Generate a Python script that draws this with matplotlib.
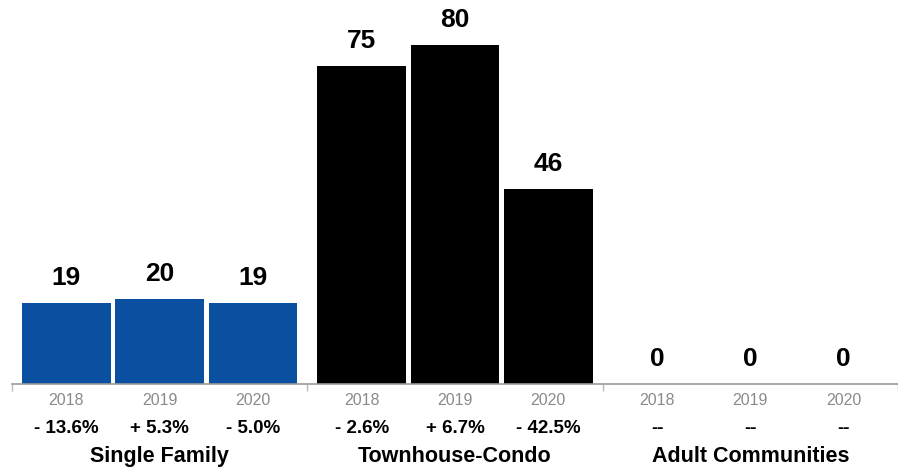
import matplotlib.pyplot as plt
import numpy as np

plt.rcParams['font.family'] = ['Liberation Sans', 'DejaVu Sans']

groups = ["Single Family", "Townhouse-Condo", "Adult Communities"]
years = ["2018", "2019", "2020"]
values = [
    [19, 20, 19],
    [75, 80, 46],
    [0, 0, 0],
]
changes = [
    ["- 13.6%", "+ 5.3%", "- 5.0%"],
    ["- 2.6%", "+ 6.7%", "- 42.5%"],
    ["--", "--", "--"],
]
colors = ["#0b4fa1", "#000000", "#000000"]

fig = plt.figure(figsize=(8.98, 4.70), dpi=100)
ax = fig.add_axes([12 / 898, 86 / 470, 886 / 898, 384 / 470])

offsets = np.array([-0.316, 0.0, 0.316])
width = 0.30

for g, name in enumerate(groups):
    xs = g + 0.5 + offsets
    ax.bar(xs, values[g], width=width, color=colors[g])
    for x, v, yr, ch in zip(xs, values[g], years, changes[g]):
        ax.annotate(str(v), xy=(x, v), xytext=(0, 18), textcoords='offset pixels',
                    ha='center', va='baseline', fontsize=19, fontweight='bold')
        ax.annotate(yr, xy=(x, 0), xycoords=('data', 'axes fraction'),
                    xytext=(0, -21), textcoords='offset pixels',
                    ha='center', va='baseline', fontsize=11.5, color='#8a8a8a')
        ax.annotate(ch, xy=(x, 0), xycoords=('data', 'axes fraction'),
                    xytext=(0, -49), textcoords='offset pixels',
                    ha='center', va='baseline', fontsize=13.5, fontweight='bold')
    ax.annotate(name, xy=(g + 0.5, 0), xycoords=('data', 'axes fraction'),
                xytext=(0, -78), textcoords='offset pixels',
                ha='center', va='baseline', fontsize=15.5, fontweight='bold')

ax.set_xlim(0, 886 / 297)
ax.set_ylim(0, 384 / 4.24)
for s in ['top', 'right', 'left']:
    ax.spines[s].set_visible(False)
ax.spines['bottom'].set_color('#999999')
ax.spines['bottom'].set_linewidth(1.2)
ax.set_xticks([0, 1, 2, 3])
ax.set_xticklabels([])
ax.tick_params(axis='x', length=5, color='#bbbbbb', width=1)
ax.set_yticks([])

fig.savefig("out.png", dpi=100)
